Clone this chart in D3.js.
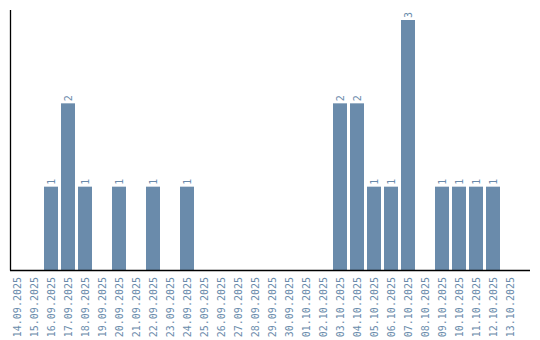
<!DOCTYPE html>
<html><head><meta charset="utf-8">
<script src="https://cdn.jsdelivr.net/npm/d3@7"></script>
<style>body{margin:0;background:#fff}svg{display:block}</style>
</head><body>
<svg id="c" width="540" height="340"></svg>
<script>
const dates = ["14.09.2025","15.09.2025","16.09.2025","17.09.2025","18.09.2025","19.09.2025","20.09.2025","21.09.2025","22.09.2025","23.09.2025","24.09.2025","25.09.2025","26.09.2025","27.09.2025","28.09.2025","29.09.2025","30.09.2025","01.10.2025","02.10.2025","03.10.2025","04.10.2025","05.10.2025","06.10.2025","07.10.2025","08.10.2025","09.10.2025","10.10.2025","11.10.2025","12.10.2025","13.10.2025"];
const counts = [0,0,1,2,1,0,1,0,1,0,1,0,0,0,0,0,0,0,0,2,2,1,1,3,0,1,1,1,1,0];

const svg = d3.select("#c");
const color = "#6a8bab";
const x = d3.scaleBand().domain(dates).range([10, 517]).paddingInner(3/17).paddingOuter(0);
const y = d3.scaleLinear().domain([0, 3]).range([270, 20]);

const data = dates.map((d, i) => ({d, v: counts[i]}));

svg.selectAll("rect.bar").data(data.filter(e => e.v > 0)).enter().append("rect")
  .attr("class", "bar")
  .attr("x", e => x(e.d)).attr("width", x.bandwidth())
  .attr("y", e => y(e.v)).attr("height", e => y(0) - y(e.v))
  .attr("fill", color);

svg.selectAll("text.val").data(data.filter(e => e.v > 0)).enter().append("text")
  .attr("class", "val")
  .attr("transform", e => `translate(${x(e.d) + x.bandwidth()/2 + 3.5},${y(e.v) - 2}) rotate(-90)`)
  .attr("text-anchor", "start")
  .attr("font-family", "DejaVu Sans Mono")
  .attr("font-size", 10)
  .attr("fill", color)
  .text(e => e.v);

// x tick labels
const xAxis = d3.axisBottom(x).tickSize(0).tickPadding(0);
const gx = svg.append("g").attr("transform", "translate(0,270)").call(xAxis);
gx.select(".domain").remove();
gx.selectAll("text")
  .attr("font-family", "DejaVu Sans Mono")
  .attr("font-size", 10)
  .attr("fill", color)
  .attr("text-anchor", "end")
  .attr("dy", null)
  .attr("y", 0)
  .attr("transform", "translate(3.5,7) rotate(-90)");

// axis lines
svg.append("line").attr("x1", 10.5).attr("x2", 10.5).attr("y1", 10).attr("y2", 270.5)
  .attr("stroke", "#000").attr("stroke-width", 1.3);
svg.append("line").attr("x1", 10).attr("x2", 530).attr("y1", 270.5).attr("y2", 270.5)
  .attr("stroke", "#000").attr("stroke-width", 1.3);
</script>
</body></html>
